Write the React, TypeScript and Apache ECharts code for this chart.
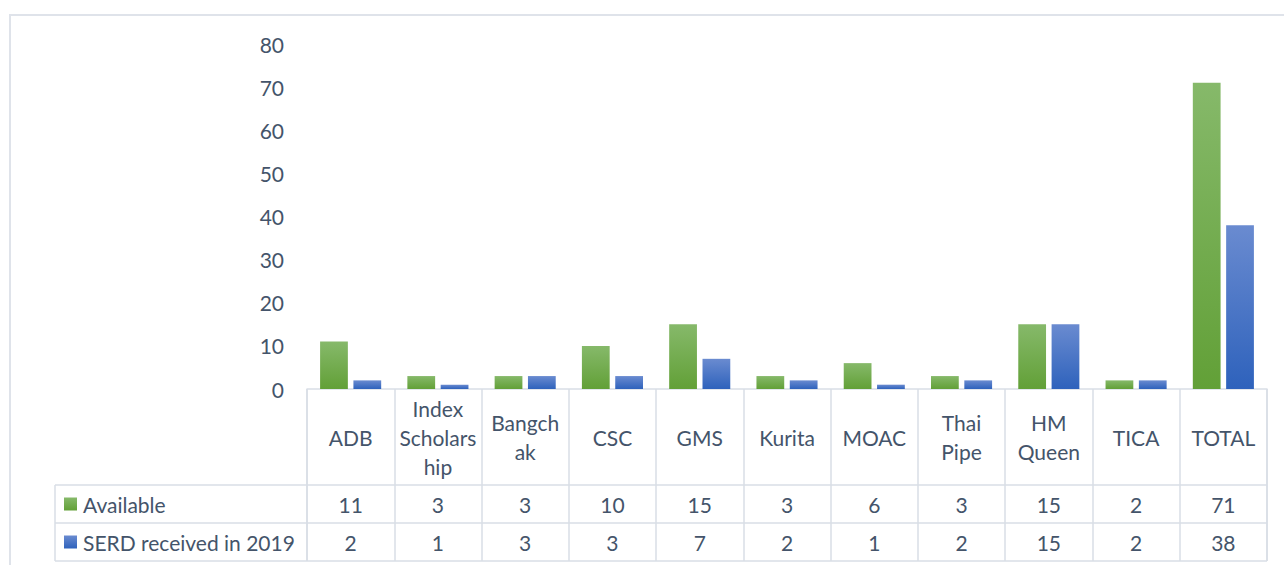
import React, { useEffect, useRef } from "react";
import * as echarts from "echarts";

const categories = ["ADB", "Index Scholarship", "Bangchak", "CSC", "GMS", "Kurita", "MOAC", "Thai Pipe", "HM Queen", "TICA", "TOTAL"];
const headerLabels = ["ADB", "Index\nScholars\nhip", "Bangch\nak", "CSC", "GMS", "Kurita", "MOAC", "Thai\nPipe", "HM\nQueen", "TICA", "TOTAL"];
const available = [11, 3, 3, 10, 15, 3, 6, 3, 15, 2, 71];
const serd = [2, 1, 3, 3, 7, 2, 1, 2, 15, 2, 38];
const seriesNames = ["Available", "SERD received in 2019"];
const yTicks = { min: 0, max: 80, interval: 10 };

const W = 1284;
const H = 565;
const GRID_LEFT = 307;
const GRID_RIGHT = 17;
const GRID_TOP = 44;
const BASE_Y = 389;
const HEADER_H = 96;
const ROW_H = 38;
const TABLE_LEFT = 55;
const TEXT = "#44546a";
const LINE = "#d9dee6";
const FONT = "Lato, 'Open Sans', sans-serif";
const FS = 21;

const greenGrad = () =>
  new echarts.graphic.LinearGradient(0, 0, 0, 1, [
    { offset: 0, color: "#86b96a" },
    { offset: 1, color: "#62a037" },
  ]);
const blueGrad = () =>
  new echarts.graphic.LinearGradient(0, 0, 0, 1, [
    { offset: 0, color: "#6a8bd0" },
    { offset: 1, color: "#2e62bc" },
  ]);

export default function App() {
  const ref = useRef<HTMLDivElement>(null);
  useEffect(() => {
    if (!ref.current) return;
    const chart = echarts.init(ref.current, undefined, { renderer: "svg" });
    const gridRightX = W - GRID_RIGHT;
    const row1Top = BASE_Y + HEADER_H;
    const row2Top = row1Top + ROW_H;
    const row2Bottom = row2Top + ROW_H;
    const lineStyle = { stroke: LINE, lineWidth: 1.5 };
    const graphic: any[] = [
      {
        type: "rect",
        shape: { x: 10, y: 15, width: W + 20, height: H + 20 },
        style: { fill: "none", stroke: "#dfe3ea", lineWidth: 2 },
        silent: true,
      },
    ];
    [row1Top, row2Top, row2Bottom].forEach((y) => {
      graphic.push({ type: "line", shape: { x1: TABLE_LEFT, y1: y, x2: gridRightX, y2: y }, style: lineStyle, silent: true });
    });
    graphic.push({ type: "line", shape: { x1: TABLE_LEFT, y1: row1Top, x2: TABLE_LEFT, y2: row2Bottom }, style: lineStyle, silent: true });
    graphic.push({ type: "line", shape: { x1: GRID_LEFT, y1: BASE_Y, x2: GRID_LEFT, y2: row2Bottom }, style: lineStyle, silent: true });
    graphic.push({ type: "line", shape: { x1: gridRightX, y1: BASE_Y, x2: gridRightX, y2: row2Bottom }, style: lineStyle, silent: true });
    const rowTops = [row1Top, row2Top];
    const grads = [greenGrad, blueGrad];
    seriesNames.forEach((name, i) => {
      const cy = rowTops[i] + ROW_H / 2;
      graphic.push({
        type: "rect",
        shape: { x: TABLE_LEFT + 9, y: cy - 6.5, width: 13, height: 13 },
        style: { fill: grads[i]() },
        silent: true,
      });
      graphic.push({
        type: "text",
        x: TABLE_LEFT + 28,
        y: cy,
        style: { text: name, fill: TEXT, font: `${FS}px ${FONT}`, verticalAlign: "middle", align: "left" },
        silent: true,
      });
    });

    const hiddenAxis = (margin: number, values: number[]) => ({
      type: "category",
      data: categories,
      position: "bottom",
      gridIndex: 0,
      axisLine: { show: false },
      axisTick: { show: false },
      splitLine: { show: false },
      axisLabel: {
        interval: 0,
        margin,
        verticalAlign: "middle",
        color: TEXT,
        fontSize: FS,
        fontFamily: FONT,
        formatter: (_v: string, idx: number) => String(values[idx]),
      },
    });

    chart.setOption({
      animation: false,
      backgroundColor: "#ffffff",
      grid: { left: GRID_LEFT, right: GRID_RIGHT, top: GRID_TOP, bottom: H - BASE_Y, containLabel: false },
      xAxis: [
        {
          type: "category",
          data: categories,
          position: "bottom",
          axisLine: { show: true, lineStyle: { color: LINE, width: 1.5 } },
          axisTick: { show: true, length: HEADER_H + 2 * ROW_H, lineStyle: { color: LINE, width: 1.5 } },
          splitLine: { show: false },
          axisLabel: {
            interval: 0,
            margin: HEADER_H / 2,
            verticalAlign: "middle",
            align: "center",
            lineHeight: 29,
            color: TEXT,
            fontSize: FS,
            fontFamily: FONT,
            formatter: (_v: string, idx: number) => headerLabels[idx],
          },
        },
        hiddenAxis(HEADER_H + ROW_H / 2, available),
        hiddenAxis(HEADER_H + ROW_H * 1.5, serd),
      ],
      yAxis: {
        type: "value",
        min: yTicks.min,
        max: yTicks.max,
        interval: yTicks.interval,
        axisLine: { show: false },
        axisTick: { show: false },
        splitLine: { show: false },
        axisLabel: { margin: 23, color: TEXT, fontSize: FS, fontFamily: FONT },
      },
      series: [
        {
          name: seriesNames[0],
          type: "bar",
          data: available,
          barGap: "20%",
          barCategoryGap: "30%",
          itemStyle: { color: greenGrad() },
        },
        {
          name: seriesNames[1],
          type: "bar",
          data: serd,
          barGap: "20%",
          barCategoryGap: "30%",
          itemStyle: { color: blueGrad() },
        },
      ],
      graphic,
    });
    return () => chart.dispose();
  }, []);
  return <div ref={ref} style={{ position: "fixed", left: 0, top: 0, width: W, height: H, background: "#fff" }} />;
}
